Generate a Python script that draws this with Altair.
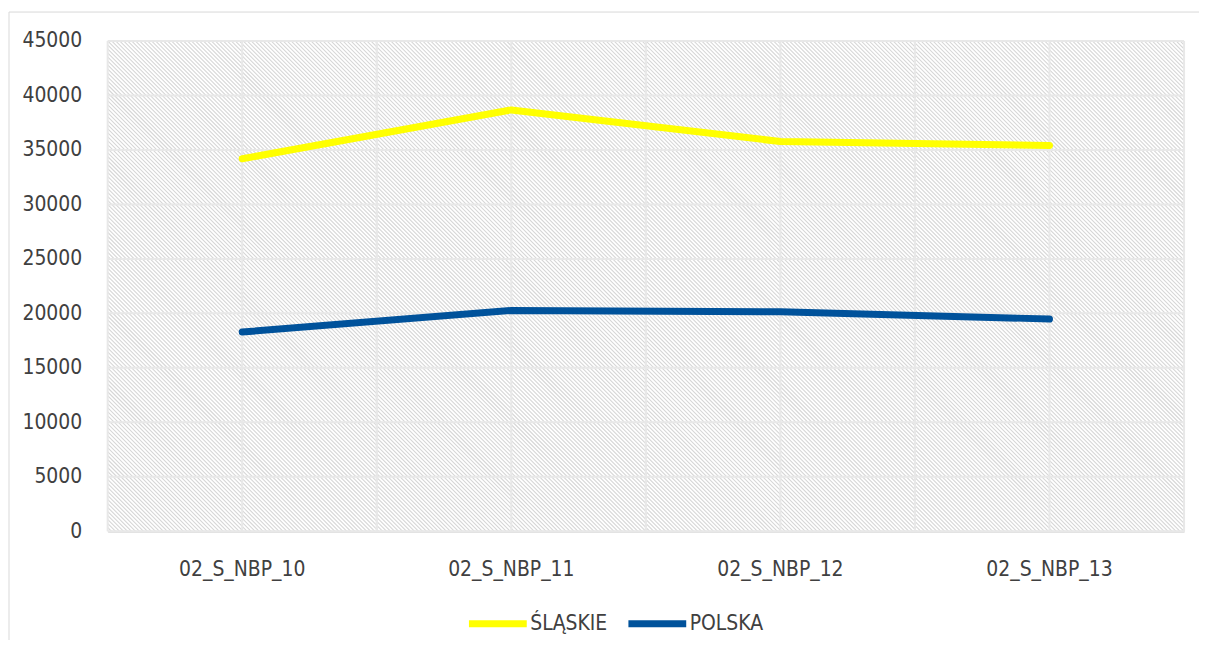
import altair as alt
import pandas as pd

# ---- data ----
categories = ["02_S_NBP_10", "02_S_NBP_11", "02_S_NBP_12", "02_S_NBP_13"]
series_names = ["ŚLĄSKIE", "POLSKA"]
slaskie = [34190, 38670, 35770, 35410]
polska = [18290, 20270, 20150, 19480]
y_ticks = [0, 5000, 10000, 15000, 20000, 25000, 30000, 35000, 40000, 45000]
series_colors = ["#FFFF00", "#00529B"]

rows = []
for name, vals in zip(series_names, [slaskie, polska]):
    for c, v in zip(categories, vals):
        rows.append({"category": c, "series": name, "value": v})
df = pd.DataFrame(rows)
cat_df = pd.DataFrame({"category": categories})
tick_df = pd.DataFrame({"tick": y_ticks})

W, H = 1080, 492
FONT = "DejaVu Sans Condensed, Liberation Sans Narrow, Roboto"
FS = 21
TXT = "#404040"
GRID = "#e8e8e8"

# ---- decorative diagonal hatch of the plot background (pixel space) ----
PER = 4
hatch_df = pd.DataFrame(
    [{"hx0": PER * k, "hx1": PER * k + H, "hy0": 0, "hy1": H} for k in range(-(H // PER) - 2, W // PER + 2)]
)
bg = alt.Chart(hatch_df).mark_rule(color="#d6d6d6", strokeWidth=1.1, clip=True).encode(
    x=alt.X("hx0:Q", scale=alt.Scale(domain=[0, W], range=[0, W], nice=False, zero=False), axis=None),
    x2="hx1:Q",
    y=alt.Y("hy0:Q", scale=alt.Scale(domain=[0, H], range=[0, H], nice=False, zero=False), axis=None),
    y2="hy1:Q",
)

xscale = alt.Scale(type="band", paddingInner=0, paddingOuter=0, domain=categories)
yscale = alt.Scale(domain=[0, 45000], nice=False, zero=True)

xaxis = alt.Axis(
    orient="bottom", title=None, bandPosition=0.5, grid=False, labelAlign="center",
    ticks=False, tickSize=0, domain=True, domainColor="#d9d9d9", domainWidth=2,
    labelFont=FONT, labelFontSize=FS, labelColor=TXT, labelPadding=27, labelAngle=0,
)

ygrid = alt.Chart(tick_df).mark_rule(color=GRID, strokeWidth=2).encode(
    y=alt.Y("tick:Q", scale=yscale),
    x=alt.value(0),
    x2=alt.value("width"),
)


def xgrid(bp):
    return alt.Chart(cat_df).mark_rule(color=GRID, strokeWidth=2).encode(
        x=alt.X("category:N", scale=xscale, sort=categories, bandPosition=bp, axis=xaxis),
        y=alt.value(0),
        y2=alt.value("height"),
    )


lines = alt.Chart(df).mark_line(strokeWidth=7, strokeCap="round", strokeJoin="round").encode(
    x=alt.X("category:N", scale=xscale, sort=categories, bandPosition=0.5, axis=xaxis),
    y=alt.Y(
        "value:Q",
        scale=yscale,
        axis=alt.Axis(
            orient="left", title=None, values=y_ticks, format="d", grid=False,
            ticks=False, tickSize=0, domain=False,
            labelFont=FONT, labelFontSize=FS, labelColor=TXT, labelPadding=26,
        ),
    ),
    color=alt.Color(
        "series:N",
        scale=alt.Scale(domain=series_names, range=series_colors),
        sort=series_names,
        legend=alt.Legend(
            title=None, orient="none", legendX=359, legendY=552, direction="horizontal",
            symbolType="stroke", symbolSize=3364, symbolStrokeWidth=7,
            labelFont=FONT, labelFontSize=FS, labelColor=TXT, labelOffset=0,
            columnPadding=6, padding=0,
        ),
    ),
)

inner = alt.layer(ygrid, xgrid(0), xgrid(0.5), xgrid(1), lines)

one = alt.Data(values=[{}])
frame = alt.Chart(one).mark_rect(fillOpacity=0, stroke="#d9d9d9", strokeWidth=1).encode(
    x=alt.value(-99), x2=alt.value(1120), y=alt.value(-29), y2=alt.value(640)
)

chart = (
    alt.layer(bg, inner, frame)
    .resolve_scale(x="independent", y="independent")
    .properties(
        width=W,
        height=H,
        autosize=alt.AutoSizeParams(type="none"),
        padding={"left": 100, "top": 32, "right": 15, "bottom": 108},
        background="#ffffff",
    )
    .configure_view(strokeWidth=0)
)

chart.save("out.html", embed_options={"renderer": "svg", "actions": False})
